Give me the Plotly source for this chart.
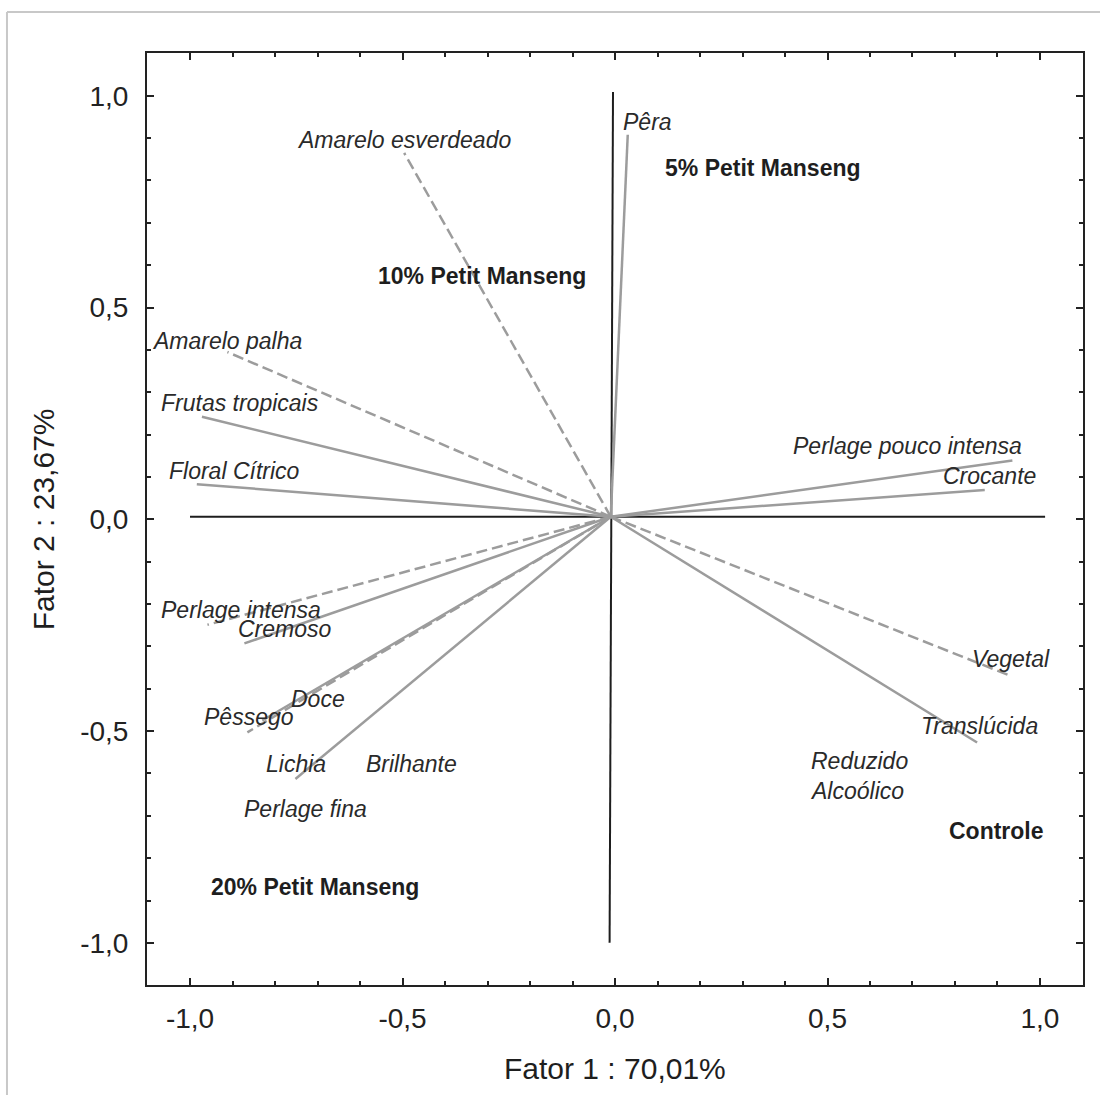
import plotly.graph_objects as go

# ---- data ----
vector_names = ["Amarelo esverdeado", "Pêra", "Amarelo palha", "Frutas tropicais",
                "Floral Cítrico", "Perlage pouco intensa", "Crocante", "Perlage intensa",
                "Cremoso", "Pêssego", "Doce", "Lichia", "Vegetal", "Translúcida"]
vector_x = [-0.496, 0.030, -0.912, -0.972, -0.984, 0.935, 0.870, -0.959,
            -0.872, -0.865, -0.830, -0.752, 0.924, 0.852]
vector_y = [0.865, 0.908, 0.395, 0.242, 0.083, 0.139, 0.069, -0.249,
            -0.293, -0.503, -0.475, -0.613, -0.367, -0.527]
vector_dashed = [True, False, True, False, False, False, False, True,
                 False, True, False, False, True, False]

origin_x = -0.010
origin_y = 0.006

label_names = ["Amarelo esverdeado", "Pêra", "Amarelo palha", "Frutas tropicais",
               "Floral Cítrico", "Perlage pouco intensa", "Crocante", "Perlage intensa",
               "Cremoso", "Doce", "Pêssego", "Lichia", "Brilhante", "Perlage fina",
               "Vegetal", "Translúcida", "Reduzido", "Alcoólico"]
label_x = [-0.753, 0.013, -1.093, -1.074, -1.054, 0.414, 0.768, -1.073,
           -0.891, -0.767, -0.972, -0.826, -0.590, -0.878,
           0.835, 0.716, 0.457, 0.455]
label_y = [0.896, 0.938, 0.422, 0.275, 0.115, 0.172, 0.102, -0.214,
           -0.259, -0.424, -0.466, -0.578, -0.578, -0.685,
           -0.330, -0.489, -0.570, -0.641]

group_names = ["10% Petit Manseng", "5% Petit Manseng", "20% Petit Manseng", "Controle"]
group_x = [-0.562, 0.113, -0.956, 0.782]
group_y = [0.574, 0.830, -0.868, -0.735]

tick_vals = [-1.0, -0.5, 0.0, 0.5, 1.0]
tick_text = ["-1,0", "-0,5", "0,0", "0,5", "1,0"]

x_title = "Fator 1 : 70,01%"
y_title = "Fator 2 : 23,67%"

# ---- figure ----
FONT = "Liberation Sans, Arial, sans-serif"
fig = go.Figure()

# cross lines
fig.add_trace(go.Scatter(x=[-1.0, 1.012], y=[origin_y, origin_y], mode="lines",
                         line=dict(color="#1e1e1e", width=2), hoverinfo="skip", showlegend=False))
fig.add_trace(go.Scatter(x=[-0.0047, -0.0127], y=[1.009, -1.0], mode="lines",
                         line=dict(color="#1e1e1e", width=2), hoverinfo="skip", showlegend=False))

for name, vx, vy, d in zip(vector_names, vector_x, vector_y, vector_dashed):
    fig.add_trace(go.Scatter(
        x=[origin_x, vx], y=[origin_y, vy], mode="lines", name=name,
        line=dict(color="#9c9c9c", width=2.5, dash="11px,5px" if d else "solid"),
        showlegend=False))

annotations = []
for t, lx, ly in zip(label_names, label_x, label_y):
    annotations.append(dict(x=lx, y=ly, xref="x", yref="y", text="<i>%s</i>" % t,
                            showarrow=False, xanchor="left", yanchor="middle",
                            font=dict(family=FONT, size=23, color="#2a2a2a")))
for t, gx, gy in zip(group_names, group_x, group_y):
    annotations.append(dict(x=gx, y=gy, xref="x", yref="y", text="<b>%s</b>" % t,
                            showarrow=False, xanchor="left", yanchor="middle",
                            font=dict(family=FONT, size=23, color="#1e1e1e")))
annotations.append(dict(x=0.5, y=-0.090, xref="paper", yref="paper", text=x_title,
                        showarrow=False, xanchor="center", yanchor="middle",
                        font=dict(family=FONT, size=30, color="#1e1e1e")))
annotations.append(dict(x=-0.111, y=0.4998, xref="paper", yref="paper", text=y_title,
                        showarrow=False, xanchor="center", yanchor="middle", textangle=-90,
                        font=dict(family=FONT, size=30, color="#1e1e1e")))

axis_common = dict(
    showgrid=False, zeroline=False, showline=True, mirror="allticks",
    linecolor="#222222", linewidth=2,
    ticks="inside", ticklen=7, tickwidth=1.5, tickcolor="#222222",
    tickmode="array", tickvals=tick_vals, ticktext=tick_text,
    tickfont=dict(family=FONT, size=28, color="#222222"),
    minor=dict(dtick=0.1, tick0=0, ticks="inside", ticklen=4, tickwidth=1.5,
               tickcolor="#222222", showgrid=False),
)

fig.update_layout(
    width=1100, height=1095,
    margin=dict(l=147, r=17, t=53, b=110, pad=0),
    paper_bgcolor="white", plot_bgcolor="white",
    xaxis=dict(range=[-1.1012, 1.1012], ticklabelstandoff=7, **axis_common),
    yaxis=dict(range=[-1.0995, 1.101], ticklabelstandoff=11, **axis_common),
    annotations=annotations,
    shapes=[
        dict(type="line", xref="paper", yref="paper", x0=-0.1496, x1=-0.1496, y0=-0.2, y1=1.0440,
             line=dict(color="#c8c8c8", width=2)),
        dict(type="line", xref="paper", yref="paper", x0=-0.1496, x1=1.1, y0=1.0440, y1=1.0440,
             line=dict(color="#c8c8c8", width=2)),
    ],
)

fig.write_html("out.html")
